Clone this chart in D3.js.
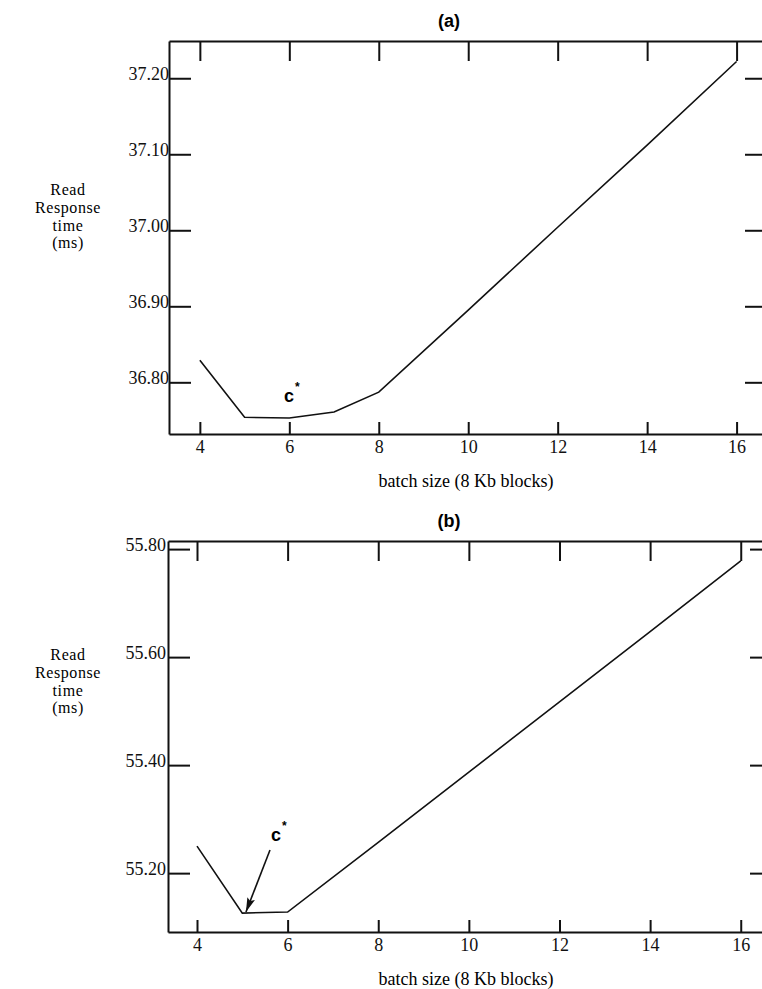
<!DOCTYPE html>
<html>
<head>
<meta charset="utf-8">
<script src="https://cdn.jsdelivr.net/npm/d3@7"></script>
<style>
  body { margin: 0; background: #fff; }
  .tick text { font-family: "Liberation Serif", "DejaVu Serif", serif; font-size: 18px; fill: #111; }
  .domain, .tick line { stroke: #111; stroke-width: 2px; }
</style>
</head>
<body>
<script>
const width = 762;
const height = 989;

// data
const batchSizes = [4, 5, 6, 7, 8, 10, 12, 14, 16];
const responseA = [36.829, 36.754, 36.753, 36.761, 36.787, 36.895, 37.004, 37.112, 37.222];
const batchSizesB = [4, 5, 6, 8, 10, 12, 14, 16];
const responseB = [55.250, 55.126, 55.128, 55.257, 55.387, 55.517, 55.647, 55.778];
const xTicks = [4, 6, 8, 10, 12, 14, 16];
const yTicksA = [36.80, 36.90, 37.00, 37.10, 37.20];
const yTicksB = [55.20, 55.40, 55.60, 55.80];
const yTitle = ["Read", "Response", "time", "(ms)"];
const xTitle = "batch size (8 Kb blocks)";

const svg = d3.select("body")
  .append("svg")
  .attr("width", width)
  .attr("height", height);

function drawPanel(p) {
  const x = d3.scaleLinear().domain(p.xDomain).range([p.left, p.right]);
  const y = d3.scaleLinear().domain(p.yDomain).range([p.bottom, p.top]);
  const g = svg.append("g");

  // left axis with labels
  g.append("g")
    .attr("transform", `translate(${p.left},0)`)
    .call(d3.axisLeft(y).tickValues(p.yTicks).tickSize(-22).tickSizeOuter(0)
      .tickPadding(p.labelPad).tickFormat(d3.format(".2f")))
    .selectAll("text").attr("dy", "0.05em");

  // right axis, ticks only
  g.append("g")
    .attr("transform", `translate(${p.right},0)`)
    .call(d3.axisRight(y).tickValues(p.yTicks).tickSize(-22).tickSizeOuter(0).tickFormat(""));

  // top axis, ticks only
  g.append("g")
    .attr("transform", `translate(0,${p.top})`)
    .call(d3.axisTop(x).tickValues(xTicks).tickSize(-20).tickSizeOuter(0).tickFormat(""));

  // bottom axis with labels
  g.append("g")
    .attr("transform", `translate(0,${p.bottom})`)
    .call(d3.axisBottom(x).tickValues(xTicks).tickSize(-12).tickSizeOuter(0).tickPadding(6));

  // curve
  g.append("path")
    .datum(p.xs.map((d, i) => [d, p.ys[i]]))
    .attr("fill", "none")
    .attr("stroke", "#111")
    .attr("stroke-width", 1.6)
    .attr("d", d3.line().x(d => x(d[0])).y(d => y(d[1])));

  // panel title
  g.append("text")
    .attr("x", 449).attr("y", p.top - 14)
    .attr("text-anchor", "middle")
    .style("font-family", "Liberation Sans, Arial, sans-serif")
    .style("font-weight", "bold")
    .style("font-size", "18px")
    .text(p.title);

  // x axis title
  g.append("text")
    .attr("x", 466).attr("y", p.bottom + 53)
    .attr("text-anchor", "middle")
    .style("font-family", "Liberation Serif, serif")
    .style("font-size", "18px")
    .text(xTitle);

  // y axis title
  g.append("text")
    .attr("text-anchor", "middle")
    .style("font-family", "Liberation Serif, serif")
    .style("font-size", "16px")
    .style("letter-spacing", "0.6px")
    .selectAll("tspan")
    .data(yTitle)
    .enter()
    .append("tspan")
    .attr("x", 68)
    .attr("y", (d, i) => p.yTitleTop + i * 17.8)
    .text(d => d);

  // c* annotation
  const c = g.append("text")
    .attr("x", p.cx).attr("y", p.cy)
    .style("font-family", "Liberation Sans, Arial, sans-serif")
    .style("font-weight", "bold")
    .style("font-size", "18px")
    .text("c");
  c.append("tspan")
    .attr("dx", 1).attr("dy", -11)
    .style("font-size", "12px")
    .text("*");

  return { x, y, g };
}

const a = drawPanel({
  title: "(a)",
  left: 169, right: 767, top: 41, bottom: 434,
  xDomain: [3.31, 16.68], yDomain: [36.732, 37.249],
  yTicks: yTicksA, xs: batchSizes, ys: responseA,
  labelPad: 0, yTitleTop: 195, cx: 284, cy: 402
});

const b = drawPanel({
  title: "(b)",
  left: 168, right: 772, top: 541, bottom: 932,
  xDomain: [3.36, 16.69], yDomain: [55.091, 55.815],
  yTicks: yTicksB, xs: batchSizesB, ys: responseB,
  labelPad: 2, yTitleTop: 660, cx: 271, cy: 841
});

// arrow pointing at the minimum in (b)
svg.append("defs").append("marker")
  .attr("id", "head")
  .attr("viewBox", "0 0 16 10")
  .attr("refX", 16).attr("refY", 5)
  .attr("markerWidth", 16).attr("markerHeight", 9)
  .attr("markerUnits", "userSpaceOnUse")
  .attr("orient", "auto")
  .append("path")
  .attr("d", "M0,0.5 L16,5 L0,9.5 L3,5 Z")
  .attr("fill", "#111");

svg.append("line")
  .attr("x1", 270).attr("y1", 850)
  .attr("x2", b.x(5.08)).attr("y2", b.y(55.128))
  .attr("stroke", "#111")
  .attr("stroke-width", 1.6)
  .attr("marker-end", "url(#head)");
</script>
</body>
</html>
